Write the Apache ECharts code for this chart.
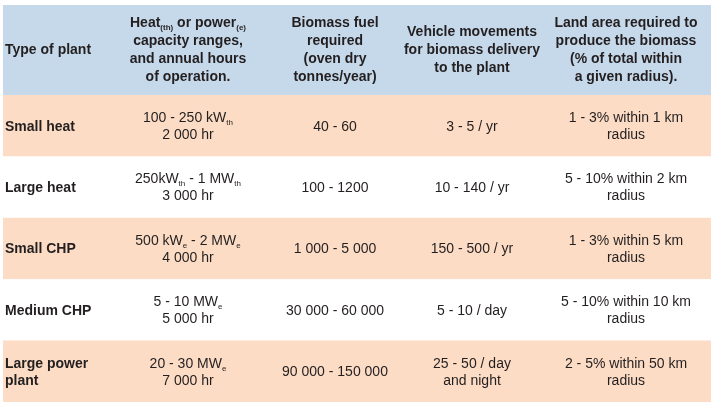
<!DOCTYPE html>
<html><head><meta charset="utf-8">
<script src="https://cdn.jsdelivr.net/npm/echarts@6/dist/echarts.min.js"></script>
<style>html,body{margin:0;padding:0;background:#fff}#c{width:724px;height:416px}</style>
</head><body><div id="c"></div>
<script>
// ---- data ----
const headers = [
  'Type of plant',
  'Heat{hs|(th)} or power{hs|(e)}\ncapacity ranges,\nand annual hours\nof operation.',
  'Biomass fuel\nrequired\n(oven dry\ntonnes/year)',
  'Vehicle movements\nfor biomass delivery\nto the plant',
  'Land area required to\nproduce the biomass\n(% of total within\na given radius).'
];
const plantTypes = ['Small heat', 'Large heat', 'Small CHP', 'Medium CHP', 'Large power\nplant'];
const capacity = [
  '100 - 250 kW{s|th}\n2 000 hr',
  '250kW{s|th} - 1 MW{s|th}\n3 000 hr',
  '500 kW{s|e} - 2 MW{s|e}\n4 000 hr',
  '5 - 10 MW{s|e}\n5 000 hr',
  '20 - 30 MW{s|e}\n7 000 hr'
];
const fuel = ['40 - 60', '100 - 1200', '1 000 - 5 000', '30 000 - 60 000', '90 000 - 150 000'];
const vehicles = ['3 - 5 / yr', '10 - 140 / yr', '150 - 500 / yr', '5 - 10 / day', '25 - 50 / day\nand night'];
const landArea = [
  '1 - 3% within 1 km\nradius',
  '5 - 10% within 2 km\nradius',
  '1 - 3% within 5 km\nradius',
  '5 - 10% within 10 km\nradius',
  '2 - 5% within 50 km\nradius'
];

// ---- layout / style ----
const FONT = '"Liberation Sans", Arial, sans-serif';
const TXT = '#231f20';
const HEAD_BG = '#c6d9eb';
const PEACH = '#fcdcc4';
const TABLE_W = 708;
const colX = [2, 185, 332, 469, 623]; // anchor x of each column inside the table
const cols = [plantTypes, capacity, fuel, vehicles, landArea];

const chart = echarts.init(document.getElementById('c'), null, {renderer: 'canvas'});

const rowData = plantTypes.map((_, i) => [i]);

const bodyRich = {
  s: {fontSize: 8, fontFamily: FONT, color: TXT, lineHeight: 17, padding: [9, 0, 0, 0]}
};

const headGraphics = [{
  type: 'rect', left: 3, top: 5, shape: {width: TABLE_W, height: 90}, style: {fill: HEAD_BG}, silent: true
}];
headers.forEach((h, j) => {
  headGraphics.push({
    type: 'text',
    x: 3 + colX[j], y: 50,
    style: {
      text: h, fill: TXT, font: 'bold 14px ' + FONT,
      align: j === 0 ? 'left' : 'center', verticalAlign: 'middle', lineHeight: 18,
      rich: {hs: {fontSize: 8, fontWeight: 'bold', fontFamily: FONT, fill: TXT, lineHeight: 18, padding: [9, 0, 0, 0]}}
    },
    silent: true
  });
});

chart.setOption({
  animation: false,
  grid: {left: 3, right: 724 - 3 - TABLE_W, top: 95, bottom: 14},
  xAxis: {type: 'value', min: 0, max: TABLE_W, show: false},
  yAxis: {type: 'category', data: plantTypes, inverse: true, show: false},
  graphic: headGraphics,
  series: [{
    type: 'custom',
    data: rowData,
    encode: {y: 0},
    renderItem: function (params, api) {
      const i = api.value(0);
      const c = api.coord([0, i]);
      const sz = api.size([TABLE_W, 1]);
      const h = sz[1];
      const top = c[1] - h / 2;
      const children = [{
        type: 'rect',
        shape: {x: c[0], y: top, width: sz[0], height: h},
        style: {fill: i % 2 === 0 ? PEACH : '#ffffff'}
      }];
      cols.forEach((arr, j) => {
        const p = api.coord([colX[j], i]);
        children.push({
          type: 'text',
          x: p[0], y: p[1] + 1,
          style: {
            text: arr[i], fill: TXT,
            font: (j === 0 ? 'bold ' : '') + '14px ' + FONT,
            align: j === 0 ? 'left' : 'center', verticalAlign: 'middle', lineHeight: 17,
            rich: bodyRich
          }
        });
      });
      return {type: 'group', children: children};
    }
  }]
});
</script>
</body></html>
